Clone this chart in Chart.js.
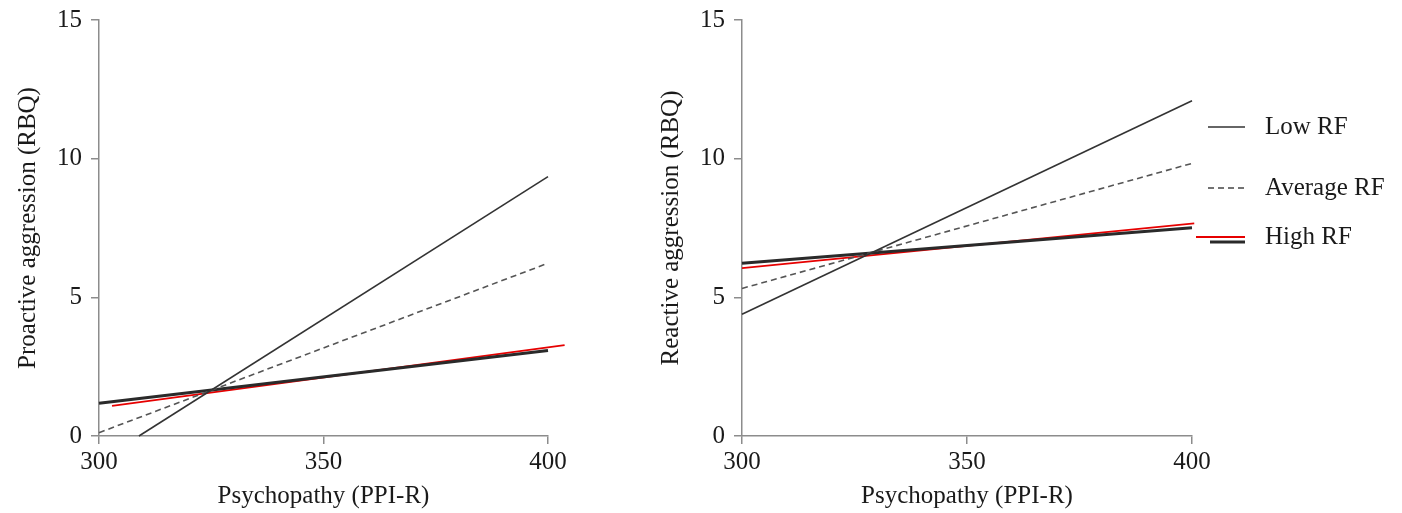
<!DOCTYPE html>
<html>
<head>
<meta charset="utf-8">
<script src="https://cdn.jsdelivr.net/npm/chart.js@4/dist/chart.umd.min.js"></script>
<style>
  body { margin: 0; background: #fff; }
  #wrap { position: relative; width: 1402px; height: 513px; }
  .panel { position: absolute; top: 0; height: 513px; }
</style>
</head>
<body>
<div id="wrap">
  <div class="panel" style="left:0;width:600px"><canvas id="proactive"></canvas></div>
  <div class="panel" style="left:643px;width:759px"><canvas id="reactive"></canvas></div>
</div>
<script>
// values, [x, y] end points of each simple slope
const seriesNames = ['Low RF', 'Average RF', 'High RF'];
const xTicks = [300, 350, 400];
const yTicks = [0, 5, 10, 15];

const proactiveLow = [[308.9, 0], [400, 9.35]];
const proactiveAvg = [[300, 0.12], [400, 6.23]];
const proactiveHigh = [[300, 1.18], [400, 3.08]];
const proactiveRed = [[302.9, 1.09], [403.7, 3.28]];

const reactiveLow = [[300, 4.39], [400, 12.09]];
const reactiveAvg = [[300, 5.32], [400, 9.83]];
const reactiveHigh = [[300, 6.23], [400, 7.51]];
const reactiveRed = [[300, 6.05], [400.5, 7.67]];

Chart.defaults.font.family = "'Liberation Serif', 'Times New Roman', serif";
Chart.defaults.font.size = 25;
Chart.defaults.color = '#1a1a1a';

const axisGray = '#8c8c8c';

function pts(arr) {
    return arr.map(p => ({ x: p[0], y: p[1] }));
}

function makeDatasets(low, avg, high, red) {
    return [
        { label: seriesNames[0], data: pts(low), borderColor: '#333', borderWidth: 1.6 },
        { label: seriesNames[1], data: pts(avg), borderColor: '#555', borderWidth: 1.6, borderDash: [6, 4] },
        { label: seriesNames[2], data: pts(high), borderColor: '#2a2a2a', borderWidth: 3 },
        { label: seriesNames[2] + ' (red)', data: pts(red), borderColor: '#e60000', borderWidth: 1.8 }
    ].map(d => Object.assign(d, { pointRadius: 0, tension: 0, clip: false, fill: false }));
}

// legend drawn next to the right panel
const sideLegend = {
    id: 'sideLegend',
    afterDraw(chart) {
        const ctx = chart.ctx;
        const x0 = chart.chartArea.right + 16;
        const rows = [127, 188, 237];
        ctx.save();
        ctx.lineCap = 'butt';
        // Low RF
        ctx.strokeStyle = '#333'; ctx.lineWidth = 1.6;
        ctx.beginPath(); ctx.moveTo(x0, rows[0]); ctx.lineTo(x0 + 37, rows[0]); ctx.stroke();
        // Average RF
        ctx.strokeStyle = '#444'; ctx.setLineDash([6, 4]);
        ctx.beginPath(); ctx.moveTo(x0, rows[1]); ctx.lineTo(x0 + 37, rows[1]); ctx.stroke();
        ctx.setLineDash([]);
        // High RF: red line above a heavier black one
        ctx.strokeStyle = '#e60000'; ctx.lineWidth = 1.8;
        ctx.beginPath(); ctx.moveTo(x0 - 12, rows[2]); ctx.lineTo(x0 + 37, rows[2]); ctx.stroke();
        ctx.strokeStyle = '#2a2a2a'; ctx.lineWidth = 3;
        ctx.beginPath(); ctx.moveTo(x0 + 2, rows[2] + 5); ctx.lineTo(x0 + 37, rows[2] + 5); ctx.stroke();

        ctx.fillStyle = '#1a1a1a';
        ctx.font = "25px 'Liberation Serif', serif";
        ctx.textBaseline = 'middle';
        ctx.textAlign = 'left';
        seriesNames.forEach((name, i) => ctx.fillText(name, x0 + 57, rows[i]));
        ctx.restore();
    }
};

function makeChart(id, yTitle, datasets, rightPad, plugins) {
    return new Chart(document.getElementById(id), {
        type: 'line',
        data: { datasets: datasets },
        plugins: plugins,
        options: {
            responsive: true,
            maintainAspectRatio: false,
            animation: false,
            layout: { padding: { left: 0, right: rightPad, top: 20, bottom: 0 } },
            plugins: { legend: { display: false }, tooltip: { enabled: false } },
            scales: {
                x: {
                    type: 'linear',
                    min: xTicks[0],
                    max: xTicks[xTicks.length - 1],
                    afterBuildTicks: s => { s.ticks = xTicks.map(v => ({ value: v })); },
                    afterFit: s => { s.height = 77; },
                    grid: { drawOnChartArea: false, tickLength: 8, color: axisGray, lineWidth: 1.5 },
                    border: { color: axisGray, width: 1.5 },
                    ticks: { padding: 3, maxRotation: 0 },
                    title: { display: true, text: 'Psychopathy (PPI-R)', padding: { top: 0, bottom: 2 } }
                },
                y: {
                    type: 'linear',
                    min: yTicks[0],
                    max: yTicks[yTicks.length - 1],
                    afterBuildTicks: s => { s.ticks = yTicks.map(v => ({ value: v })); },
                    afterFit: s => { s.width = 99; s.paddingTop = 0; s.paddingBottom = 0; },
                    grid: { drawOnChartArea: false, tickLength: 8, color: axisGray, lineWidth: 1.5 },
                    border: { color: axisGray, width: 1.5 },
                    ticks: { padding: 9 },
                    title: { display: true, text: yTitle, padding: { top: 13, bottom: 0 } }
                }
            }
        }
    });
}

makeChart('proactive', 'Proactive aggression (RBQ)',
    makeDatasets(proactiveLow, proactiveAvg, proactiveHigh, proactiveRed), 52, []);
makeChart('reactive', 'Reactive aggression (RBQ)',
    makeDatasets(reactiveLow, reactiveAvg, reactiveHigh, reactiveRed), 210, [sideLegend]);
</script>
</body>
</html>
